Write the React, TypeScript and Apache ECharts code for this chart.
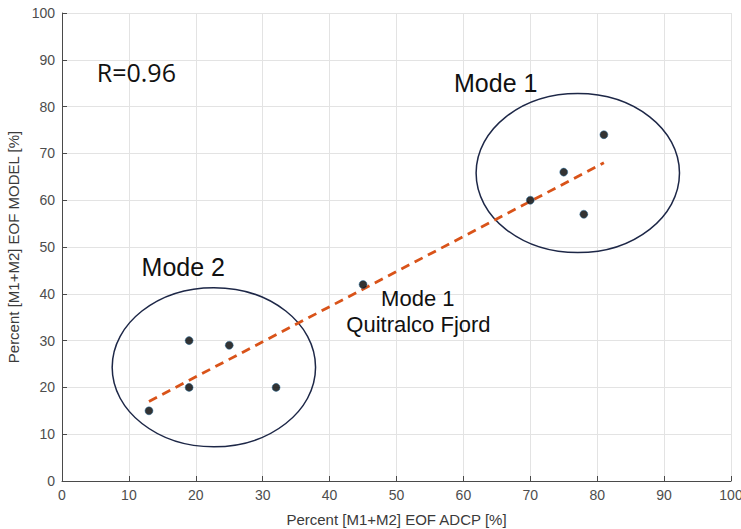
import React, { useEffect, useRef } from "react";
import * as echarts from "echarts";

const pointsX = [13, 19, 19, 25, 32, 45, 70, 75, 78, 81];
const pointsY = [15, 30, 20, 29, 20, 42, 60, 66, 57, 74];
const fitLine = [
  [13, 17],
  [81, 68],
];
// [cx, cy, rx, ry] in data units
const ellipses = [
  [22.7, 24.3, 15.2, 17.0],
  [77.1, 65.8, 15.2, 17.0],
];
const labels = [
  { text: "R=0.96", x: 5.2, y: 87.4, size: 25, family: "Open Sans" },
  { text: "Mode 1", x: 58.6, y: 85.0, size: 25, family: "Liberation Sans" },
  { text: "Mode 2", x: 11.9, y: 45.7, size: 25, family: "Liberation Sans" },
  { text: "Mode 1", x: 47.7, y: 39.0, size: 22, family: "Liberation Sans" },
  { text: "Quitralco Fjord", x: 42.5, y: 33.4, size: 22, family: "Liberation Sans" },
];

export default function App() {
  const ref = useRef<HTMLDivElement>(null);
  useEffect(() => {
    document.body.style.margin = "0";
    const chart = echarts.init(ref.current!, null, { renderer: "svg" });
    const scatterData = pointsX.map((x, i) => [x, pointsY[i]]);
    const axisCommon = {
      type: "value",
      min: 0,
      max: 100,
      interval: 10,
      nameLocation: "middle",
      nameTextStyle: { color: "#3a3a3a", fontSize: 15, fontFamily: "Liberation Sans" },
      axisLine: { show: true, lineStyle: { color: "#4a4a4a", width: 1 } },
      axisTick: { show: true, inside: true, length: 5, lineStyle: { color: "#4a4a4a" } },
      axisLabel: { color: "#4d4d4d", fontSize: 14, margin: 7, fontFamily: "Liberation Sans" },
      splitLine: { lineStyle: { color: "#e3e3e3", width: 1 } },
    };
    chart.setOption({
      animation: false,
      backgroundColor: "#ffffff",
      grid: { left: 62, right: 10, top: 13, bottom: 48, outerBoundsMode: "none", containLabel: false },
      xAxis: { ...axisCommon, name: "Percent [M1+M2] EOF ADCP [%]", nameGap: 31 },
      yAxis: { ...axisCommon, name: "Percent [M1+M2] EOF MODEL [%]", nameGap: 40 },
      series: [
        {
          type: "custom",
          data: ellipses,
          renderItem: (params: any, api: any) => {
            const c = api.coord([api.value(0), api.value(1)]);
            const s = api.size([api.value(2), api.value(3)]);
            return {
              type: "ellipse",
              shape: { cx: c[0], cy: c[1], rx: s[0], ry: s[1] },
              style: { fill: "none", stroke: "#1d2747", lineWidth: 1.5 },
            };
          },
          z: 2,
        },
        {
          type: "line",
          data: fitLine,
          showSymbol: false,
          symbol: "none",
          lineStyle: { color: "#d95319", width: 2.8, type: [9, 6] },
          z: 3,
        },
        {
          type: "scatter",
          data: scatterData,
          symbolSize: 8,
          itemStyle: { color: "#000000", borderColor: "#1f6a9c", borderWidth: 0.6 },
          z: 4,
        },
      ],
    });
    const graphics = labels.map((l) => {
      const p = chart.convertToPixel({ gridIndex: 0 }, [l.x, l.y]) as number[];
      return {
        type: "text",
        x: p[0],
        y: p[1],
        z: 10,
        style: {
          text: l.text,
          fill: "#111111",
          fontSize: l.size,
          fontFamily: l.family,
          textAlign: "left",
          textVerticalAlign: "middle",
          verticalAlign: "middle",
        },
      };
    });
    chart.setOption({ graphic: graphics });
    return () => chart.dispose();
  }, []);
  return (
    <div
      ref={ref}
      style={{ position: "fixed", left: 0, top: 0, width: 741, height: 529 }}
    />
  );
}
